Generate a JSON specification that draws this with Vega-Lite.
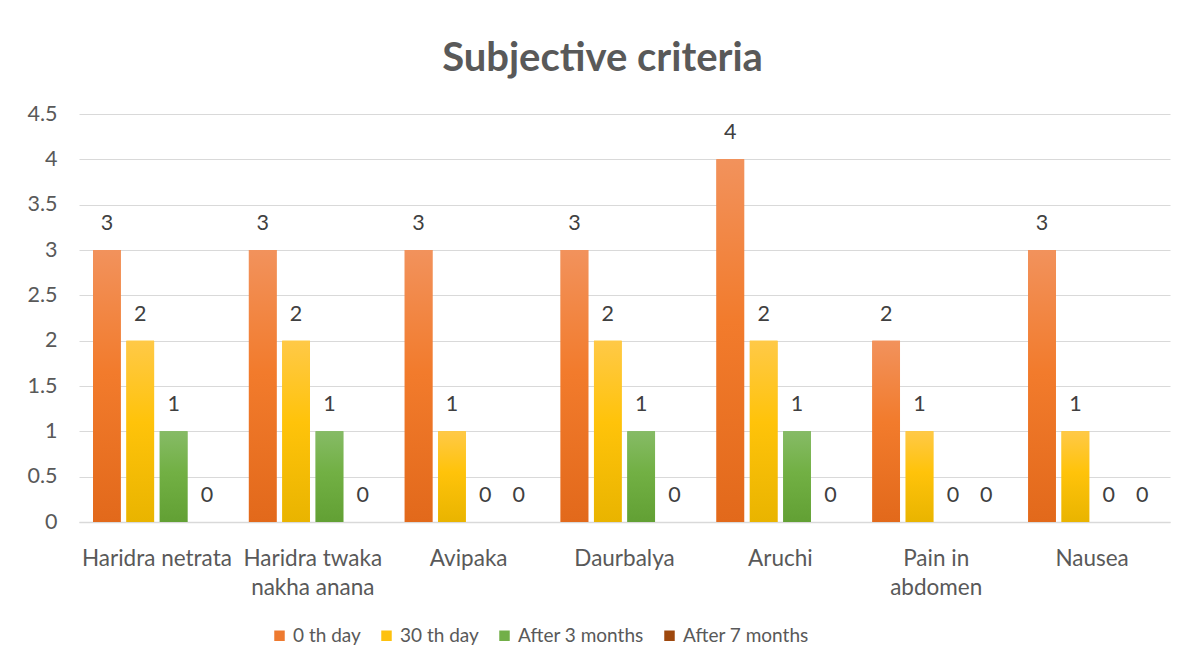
{
  "$schema": "https://vega.github.io/schema/vega-lite/v6.json",
  "width": 1091,
  "height": 408,
  "autosize": "none",
  "padding": {"left": 79, "top": 114, "right": 14, "bottom": 147},
  "background": "white",
  "title": {
    "text": "Subjective criteria",
    "font": "Lato",
    "fontSize": 40,
    "fontWeight": "bold",
    "color": "#595959",
    "anchor": "middle",
    "dx": -22,
    "offset": 24
  },
  "data": {
    "values": [
      {"criterion": "Haridra netrata", "series": "0 th day", "value": 3},
      {"criterion": "Haridra netrata", "series": "30 th day", "value": 2},
      {"criterion": "Haridra netrata", "series": "After 3 months", "value": 1},
      {"criterion": "Haridra netrata", "series": "After 7 months", "value": 0},
      {"criterion": "Haridra twaka|nakha anana", "series": "0 th day", "value": 3},
      {"criterion": "Haridra twaka|nakha anana", "series": "30 th day", "value": 2},
      {"criterion": "Haridra twaka|nakha anana", "series": "After 3 months", "value": 1},
      {"criterion": "Haridra twaka|nakha anana", "series": "After 7 months", "value": 0},
      {"criterion": "Avipaka", "series": "0 th day", "value": 3},
      {"criterion": "Avipaka", "series": "30 th day", "value": 1},
      {"criterion": "Avipaka", "series": "After 3 months", "value": 0},
      {"criterion": "Avipaka", "series": "After 7 months", "value": 0},
      {"criterion": "Daurbalya", "series": "0 th day", "value": 3},
      {"criterion": "Daurbalya", "series": "30 th day", "value": 2},
      {"criterion": "Daurbalya", "series": "After 3 months", "value": 1},
      {"criterion": "Daurbalya", "series": "After 7 months", "value": 0},
      {"criterion": "Aruchi", "series": "0 th day", "value": 4},
      {"criterion": "Aruchi", "series": "30 th day", "value": 2},
      {"criterion": "Aruchi", "series": "After 3 months", "value": 1},
      {"criterion": "Aruchi", "series": "After 7 months", "value": 0},
      {"criterion": "Pain in|abdomen", "series": "0 th day", "value": 2},
      {"criterion": "Pain in|abdomen", "series": "30 th day", "value": 1},
      {"criterion": "Pain in|abdomen", "series": "After 3 months", "value": 0},
      {"criterion": "Pain in|abdomen", "series": "After 7 months", "value": 0},
      {"criterion": "Nausea", "series": "0 th day", "value": 3},
      {"criterion": "Nausea", "series": "30 th day", "value": 1},
      {"criterion": "Nausea", "series": "After 3 months", "value": 0},
      {"criterion": "Nausea", "series": "After 7 months", "value": 0}
    ]
  },
  "encoding": {
    "x": {
      "field": "criterion",
      "type": "nominal",
      "sort": null,
      "scale": {"paddingInner": 0.18, "paddingOuter": 0.09},
      "axis": {
        "title": null,
        "labelAngle": 0,
        "labelExpr": "split(datum.label, '|')",
        "labelFont": "Lato",
        "labelFontSize": 22.5,
        "labelColor": "#595959",
        "labelPadding": 25,
        "labelLineHeight": 29,
        "ticks": false,
        "domainColor": "#D9D9D9",
        "domainWidth": 1.5
      }
    },
    "xOffset": {
      "field": "series",
      "type": "nominal",
      "sort": null,
      "scale": {"paddingInner": 0.17, "domain": ["0 th day", "30 th day", "After 3 months", "After 7 months"]}
    },
    "y": {
      "field": "value",
      "type": "quantitative",
      "scale": {"domain": [0, 4.5]},
      "axis": {
        "title": null,
        "values": [0, 0.5, 1, 1.5, 2, 2.5, 3, 3.5, 4, 4.5],
        "format": "~g",
        "labelFont": "Lato",
        "labelFontSize": 21.5,
        "labelColor": "#595959",
        "labelPadding": 22,
        "ticks": false,
        "domain": false,
        "grid": true,
        "gridColor": "#D9D9D9",
        "gridWidth": 1.2
      }
    }
  },
  "layer": [
    {
      "mark": {"type": "bar"},
      "encoding": {
        "color": {
          "field": "series",
          "type": "nominal",
          "sort": null,
          "scale": {
            "domain": ["0 th day", "30 th day", "After 3 months", "After 7 months"],
            "range": ["#EE7A30", "#FDC10E", "#72AF48", "#9E480E"]
          },
          "legend": {
            "title": null,
            "orient": "none",
            "legendX": 191,
            "legendY": 512,
            "direction": "horizontal",
            "symbolType": "square",
            "symbolSize": 110,
            "symbolStrokeWidth": 0,
            "labelFont": "Lato",
            "labelFontSize": 19,
            "labelColor": "#595959",
            "labelOffset": 4,
            "columnPadding": 16
          }
        }
      }
    },
    {
      "transform": [{"filter": "datum.series == '0 th day'"}],
      "mark": {
        "type": "bar",
        "color": {
          "gradient": "linear", "x1": 0, "y1": 0, "x2": 0, "y2": 1,
          "stops": [
            {"offset": 0, "color": "#F2925C"},
            {"offset": 0.45, "color": "#F27B2C"},
            {"offset": 1, "color": "#E2691B"}
          ]
        }
      }
    },
    {
      "transform": [{"filter": "datum.series == '30 th day'"}],
      "mark": {
        "type": "bar",
        "color": {
          "gradient": "linear", "x1": 0, "y1": 0, "x2": 0, "y2": 1,
          "stops": [
            {"offset": 0, "color": "#FFC947"},
            {"offset": 0.45, "color": "#FFC30A"},
            {"offset": 1, "color": "#E9B400"}
          ]
        }
      }
    },
    {
      "transform": [{"filter": "datum.series == 'After 3 months'"}],
      "mark": {
        "type": "bar",
        "color": {
          "gradient": "linear", "x1": 0, "y1": 0, "x2": 0, "y2": 1,
          "stops": [
            {"offset": 0, "color": "#86BB66"},
            {"offset": 0.45, "color": "#72B044"},
            {"offset": 1, "color": "#62A034"}
          ]
        }
      }
    },
    {
      "mark": {
        "type": "text",
        "font": "Lato",
        "fontSize": 21.5,
        "color": "#404040",
        "baseline": "middle",
        "dy": -26
      },
      "encoding": {
        "text": {"field": "value", "type": "quantitative"}
      }
    }
  ],
  "config": {
    "view": {"stroke": null}
  }
}
